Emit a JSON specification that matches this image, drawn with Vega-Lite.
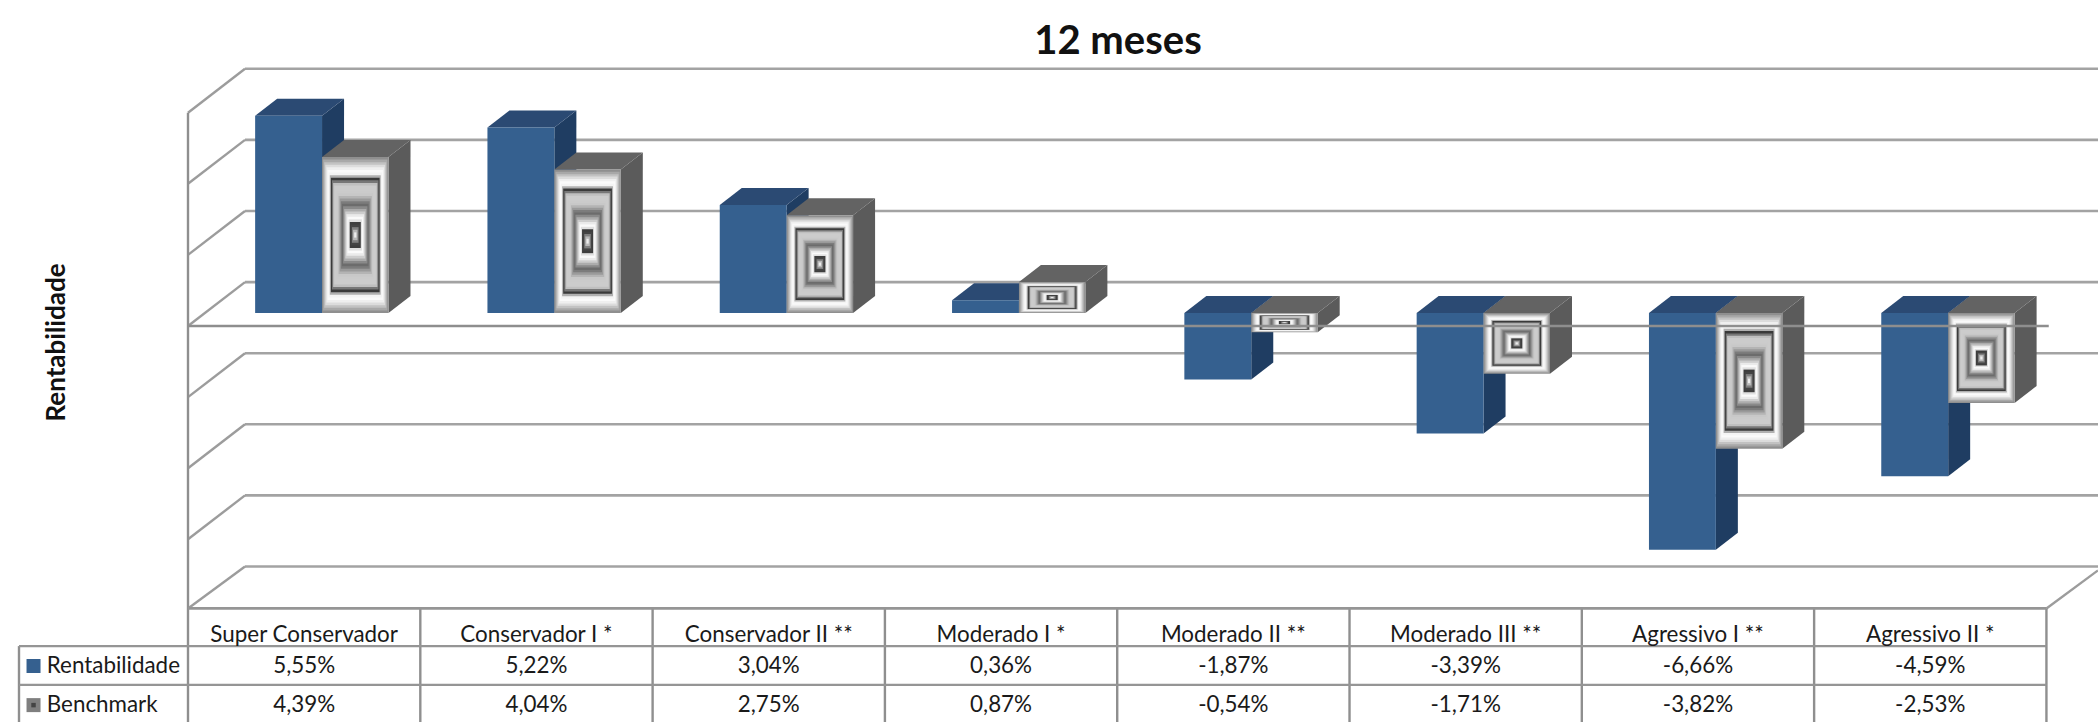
{"$schema":"https://vega.github.io/schema/vega-lite/v6.json","width":2098,"height":722,"autosize":{"type":"none"},"padding":0,"background":"white","config":{"view":{"stroke":null}},
"title":{"text":"12 meses","font":"Lato","fontSize":40,"fontWeight":"bold","color":"#111111","anchor":"middle","frame":"group","offset":-62,"dx":69},
"datasets":{
"fundos":[
{"categoria":"Super Conservador","serie":"Rentabilidade","valor":5.55},{"categoria":"Conservador I *","serie":"Rentabilidade","valor":5.22},{"categoria":"Conservador II **","serie":"Rentabilidade","valor":3.04},{"categoria":"Moderado I *","serie":"Rentabilidade","valor":0.36},{"categoria":"Moderado II **","serie":"Rentabilidade","valor":-1.87},{"categoria":"Moderado III **","serie":"Rentabilidade","valor":-3.39},{"categoria":"Agressivo I **","serie":"Rentabilidade","valor":-6.66},{"categoria":"Agressivo II *","serie":"Rentabilidade","valor":-4.59},
{"categoria":"Super Conservador","serie":"Benchmark","valor":4.39},{"categoria":"Conservador I *","serie":"Benchmark","valor":4.04},{"categoria":"Conservador II **","serie":"Benchmark","valor":2.75},{"categoria":"Moderado I *","serie":"Benchmark","valor":0.87},{"categoria":"Moderado II **","serie":"Benchmark","valor":-0.54},{"categoria":"Moderado III **","serie":"Benchmark","valor":-1.71},{"categoria":"Agressivo I **","serie":"Benchmark","valor":-3.82},{"categoria":"Agressivo II *","serie":"Benchmark","valor":-2.53}],
"grade":[{"g":6},{"g":4},{"g":2},{"g":0},{"g":-2},{"g":-4},{"g":-6},{"g":-8}],
"colunas":[{"k":1},{"k":2},{"k":3},{"k":4},{"k":5},{"k":6},{"k":7},{"k":8}],
"um":[{"n":1}]},
"encoding":{
"x":{"field":"xu","type":"quantitative","scale":{"domain":[-0.8093,8.222],"nice":false,"zero":false},"axis":null},
"y":{"field":"yu","type":"quantitative","scale":{"domain":[-11.505,8.805],"nice":false,"zero":false},"axis":{"title":"Rentabilidade","titleFont":"Lato","titleFontSize":26,"titleFontWeight":"bold","titleColor":"#111111","labels":false,"ticks":false,"domain":false,"grid":false,"titleX":56,"titleY":342,"titleAngle":270,"titleAlign":"center","titleBaseline":"middle"}}},
"layer":[
{"data":{"name":"grade"},"transform":[{"calculate":"0.2454","as":"xu"},{"calculate":"8.222","as":"x2u"},{"calculate":"datum.g+0.87","as":"yu"}],"mark":{"type":"rule","color":"#a3a3a3","strokeWidth":2.6},"encoding":{"x2":{"field":"x2u"}}},
{"data":{"name":"grade"},"transform":[{"calculate":"0","as":"xu"},{"calculate":"0.2454","as":"x2u"},{"calculate":"datum.g==-8?-8.31:datum.g-0.365","as":"yu"},{"calculate":"datum.g+0.87","as":"y2u"}],"mark":{"type":"rule","color":"#9c9c9c","strokeWidth":2.4},"encoding":{"x2":{"field":"x2u"},"y2":{"field":"y2u"}}},
{"data":{"name":"um"},"transform":[{"calculate":"8","as":"xu"},{"calculate":"8.222","as":"x2u"},{"calculate":"-8.31","as":"yu"},{"calculate":"-7.24","as":"y2u"}],"mark":{"type":"rule","color":"#9c9c9c","strokeWidth":2.4},"encoding":{"x2":{"field":"x2u"},"y2":{"field":"y2u"}}},
{"data":{"name":"um"},"transform":[{"calculate":"0","as":"xu"},{"calculate":"5.635","as":"yu"},{"calculate":"-11.505","as":"y2u"}],"mark":{"type":"rule","color":"#8f8f8f","strokeWidth":2.4},"encoding":{"y2":{"field":"y2u"}}},
{"data":{"name":"colunas"},"transform":[{"calculate":"datum.k","as":"xu"},{"calculate":"-8.31","as":"yu"},{"calculate":"-11.505","as":"y2u"}],"mark":{"type":"rule","color":"#8f8f8f","strokeWidth":2.4},"encoding":{"y2":{"field":"y2u"}}},
{"data":{"name":"um"},"transform":[{"calculate":"-0.7275","as":"xu"},{"calculate":"-9.37","as":"yu"},{"calculate":"-11.505","as":"y2u"}],"mark":{"type":"rule","color":"#8f8f8f","strokeWidth":2.4},"encoding":{"y2":{"field":"y2u"}}},
{"data":{"name":"um"},"transform":[{"calculate":"0","as":"xu"},{"calculate":"8","as":"x2u"},{"calculate":"-8.31","as":"yu"}],"mark":{"type":"rule","color":"#959595","strokeWidth":2.6},"encoding":{"x2":{"field":"x2u"}}},
{"data":{"name":"um"},"transform":[{"calculate":"-0.7275","as":"xu"},{"calculate":"8","as":"x2u"},{"calculate":"-9.37","as":"yu"}],"mark":{"type":"rule","color":"#959595","strokeWidth":2.4},"encoding":{"x2":{"field":"x2u"}}},
{"data":{"name":"um"},"transform":[{"calculate":"-0.7275","as":"xu"},{"calculate":"8","as":"x2u"},{"calculate":"-10.46","as":"yu"}],"mark":{"type":"rule","color":"#959595","strokeWidth":2.4},"encoding":{"x2":{"field":"x2u"}}},

{"data":{"name":"fundos"},"transform":[{"filter":"datum.serie=='Rentabilidade'"},{"fold":["frente","fundo"],"as":["p","v"]},{"calculate":"datum.p=='fundo'?1:0","as":"b"},{"calculate":"indexof(['Super Conservador','Conservador I *','Conservador II **','Moderado I *','Moderado II **','Moderado III **','Agressivo I **','Agressivo II *'],datum.categoria)+0.577+datum.b*0.0947","as":"xu"},{"calculate":"max(datum.valor,0)+datum.b*0.477","as":"yu"},{"calculate":"min(datum.valor,0)+datum.b*0.477","as":"y2u"}],"mark":{"type":"area","orient":"vertical","color":"#1f3d62"},"encoding":{"y2":{"field":"y2u"},"detail":{"field":"categoria"}}},
{"data":{"name":"fundos"},"transform":[{"filter":"datum.serie=='Rentabilidade'"},{"fold":["frente","fundo"],"as":["p","v"]},{"calculate":"datum.p=='fundo'?1:0","as":"b"},{"calculate":"indexof(['Super Conservador','Conservador I *','Conservador II **','Moderado I *','Moderado II **','Moderado III **','Agressivo I **','Agressivo II *'],datum.categoria)+0.289+datum.b*0.0947","as":"xu"},{"calculate":"datum.xu+0.288","as":"x2u"},{"calculate":"max(datum.valor,0)+datum.b*0.477","as":"yu"}],"mark":{"type":"area","orient":"horizontal","color":"#2b4a73"},"encoding":{"x2":{"field":"x2u"},"detail":{"field":"categoria"}}},
{"data":{"name":"fundos"},"transform":[{"filter":"datum.serie=='Rentabilidade'"},{"calculate":"indexof(['Super Conservador','Conservador I *','Conservador II **','Moderado I *','Moderado II **','Moderado III **','Agressivo I **','Agressivo II *'],datum.categoria)+0.289","as":"xu"},{"calculate":"datum.xu+0.288","as":"x2u"},{"calculate":"datum.valor","as":"yu"},{"calculate":"0","as":"y2u"}],"mark":{"type":"bar","color":"#35608f"},"encoding":{"x2":{"field":"x2u"},"y2":{"field":"y2u"}}},

{"data":{"name":"fundos"},"transform":[{"filter":"datum.serie=='Benchmark'"},{"fold":["frente","fundo"],"as":["p","v"]},{"calculate":"datum.p=='fundo'?1:0","as":"b"},{"calculate":"indexof(['Super Conservador','Conservador I *','Conservador II **','Moderado I *','Moderado II **','Moderado III **','Agressivo I **','Agressivo II *'],datum.categoria)+0.863+datum.b*0.0947","as":"xu"},{"calculate":"max(datum.valor,0)+datum.b*0.477","as":"yu"},{"calculate":"min(datum.valor,0)+datum.b*0.477","as":"y2u"}],"mark":{"type":"area","orient":"vertical","color":"#5b5b5b"},"encoding":{"y2":{"field":"y2u"},"detail":{"field":"categoria"}}},
{"data":{"name":"fundos"},"transform":[{"filter":"datum.serie=='Benchmark'"},{"fold":["frente","fundo"],"as":["p","v"]},{"calculate":"datum.p=='fundo'?1:0","as":"b"},{"calculate":"indexof(['Super Conservador','Conservador I *','Conservador II **','Moderado I *','Moderado II **','Moderado III **','Agressivo I **','Agressivo II *'],datum.categoria)+0.577+datum.b*0.0947","as":"xu"},{"calculate":"datum.xu+0.286","as":"x2u"},{"calculate":"max(datum.valor,0)+datum.b*0.477","as":"yu"}],"mark":{"type":"area","orient":"horizontal","color":"#636363"},"encoding":{"x2":{"field":"x2u"},"detail":{"field":"categoria"}}},
{"data":{"name":"fundos"},"transform":[{"filter":"datum.serie=='Benchmark'"},
{"fold":["00","01","02","03","04","05","06","07","08","09","10","11","12","13","14","15","16","17","18","19","20","21","22","23","24","25","26","27","28","29"],"as":["nivel","v"]},
{"calculate":"toNumber(datum.nivel)/30","as":"f"},
{"calculate":"indexof(['Super Conservador','Conservador I *','Conservador II **','Moderado I *','Moderado II **','Moderado III **','Agressivo I **','Agressivo II *'],datum.categoria)+0.577","as":"x0"},
{"calculate":"datum.x0+datum.f*0.143","as":"xu"},{"calculate":"datum.x0+0.286-datum.f*0.143","as":"x2u"},
{"calculate":"max(datum.valor,0)-datum.f*abs(datum.valor)/2","as":"yu"},{"calculate":"min(datum.valor,0)+datum.f*abs(datum.valor)/2","as":"y2u"}],
"mark":{"type":"rect"},"encoding":{"x2":{"field":"x2u"},"y2":{"field":"y2u"},"color":{"field":"nivel","type":"nominal","legend":null,"scale":{"domain":["00","01","02","03","04","05","06","07","08","09","10","11","12","13","14","15","16","17","18","19","20","21","22","23","24","25","26","27","28","29"],"range":["#8f8f8f","#a8a8a8","#c2c2c2","#dcdcdc","#efefef","#fafafa","#f4f4f4","#b0b0b0","#3a3a3a","#777777","#bfbfbf","#cccccc","#cccccc","#cbcbcb","#c8c8c8","#b4b4b4","#9a9a9a","#7c7c7c","#6c6c6c","#8a8a8a","#acacac","#cdcdcd","#eaeaea","#fafafa","#e0e0e0","#3e3e3e","#444444","#808080","#b8b8b8","#eeeeee"]}}}},

{"data":{"name":"um"},"transform":[{"calculate":"0","as":"xu"},{"calculate":"8.01","as":"x2u"},{"calculate":"-0.365","as":"yu"}],"mark":{"type":"rule","color":"#8e8e8e","strokeWidth":2.4},"encoding":{"x2":{"field":"x2u"}}},

{"data":{"name":"fundos"},"transform":[{"filter":"datum.serie=='Rentabilidade'"},{"calculate":"indexof(['Super Conservador','Conservador I *','Conservador II **','Moderado I *','Moderado II **','Moderado III **','Agressivo I **','Agressivo II *'],datum.categoria)+0.5","as":"xu"},{"calculate":"-9.07","as":"yu"}],"mark":{"type":"text","font":"Lato","fontSize":22.4,"color":"#1a1a1a","align":"center","baseline":"middle"},"encoding":{"text":{"field":"categoria"}}},
{"data":{"name":"fundos"},"transform":[{"calculate":"indexof(['Super Conservador','Conservador I *','Conservador II **','Moderado I *','Moderado II **','Moderado III **','Agressivo I **','Agressivo II *'],datum.categoria)+0.5","as":"xu"},{"calculate":"datum.serie=='Rentabilidade'?-9.93:-11.03","as":"yu"},{"calculate":"replace(replace(format(datum.valor,'.2f'),'.',','),'\u2212','-')+'%'","as":"rotulo"}],"mark":{"type":"text","font":"Lato","fontSize":22.4,"color":"#1a1a1a","align":"center","baseline":"middle"},"encoding":{"text":{"field":"rotulo"}}},
{"data":{"values":[{"serie":"Rentabilidade"},{"serie":"Benchmark"}]},"transform":[{"calculate":"-0.608","as":"xu"},{"calculate":"datum.serie=='Rentabilidade'?-9.93:-11.03","as":"yu"}],"mark":{"type":"text","font":"Lato","fontSize":22.4,"color":"#1a1a1a","align":"left","baseline":"middle"},"encoding":{"text":{"field":"serie"}}},
{"data":{"values":[{"serie":"Rentabilidade"}]},"transform":[{"calculate":"-0.665","as":"xu"},{"calculate":"-9.93","as":"yu"}],"mark":{"type":"point","shape":"square","filled":true,"size":196,"color":"#35608f","opacity":1}},
{"data":{"values":[{"serie":"Benchmark"}]},"transform":[{"calculate":"-0.665","as":"xu"},{"calculate":"-11.03","as":"yu"}],"mark":{"type":"point","shape":"square","filled":true,"size":196,"color":"#7f7f7f","opacity":1}},
{"data":{"values":[{"serie":"Benchmark"}]},"transform":[{"calculate":"-0.665","as":"xu"},{"calculate":"-11.03","as":"yu"}],"mark":{"type":"point","shape":"square","filled":true,"size":20,"color":"#444444","opacity":1}}
]}
